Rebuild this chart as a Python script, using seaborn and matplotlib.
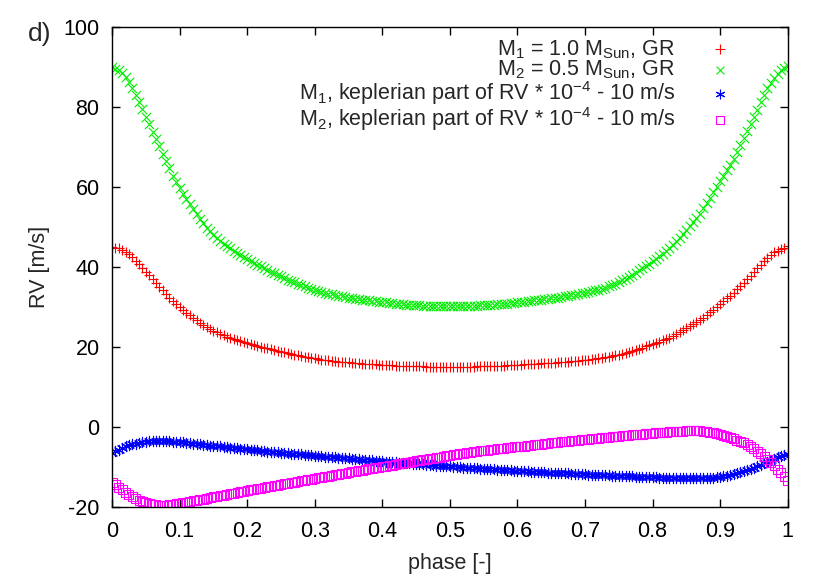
import matplotlib
matplotlib.use("Agg")
import matplotlib.pyplot as plt
import seaborn as sns
import pandas as pd

# -------------------------------
# Data (every 0.005 in phase)
# -------------------------------

phase = [
    0.000, 0.005, 0.010, 0.015, 0.020, 0.025, 0.030, 0.035, 0.040, 0.045,
    0.050, 0.055, 0.060, 0.065, 0.070, 0.075, 0.080, 0.085, 0.090, 0.095,
    0.100, 0.105, 0.110, 0.115, 0.120, 0.125, 0.130, 0.135, 0.140, 0.145,
    0.150, 0.155, 0.160, 0.165, 0.170, 0.175, 0.180, 0.185, 0.190, 0.195,
    0.200, 0.205, 0.210, 0.215, 0.220, 0.225, 0.230, 0.235, 0.240, 0.245,
    0.250, 0.255, 0.260, 0.265, 0.270, 0.275, 0.280, 0.285, 0.290, 0.295,
    0.300, 0.305, 0.310, 0.315, 0.320, 0.325, 0.330, 0.335, 0.340, 0.345,
    0.350, 0.355, 0.360, 0.365, 0.370, 0.375, 0.380, 0.385, 0.390, 0.395,
    0.400, 0.405, 0.410, 0.415, 0.420, 0.425, 0.430, 0.435, 0.440, 0.445,
    0.450, 0.455, 0.460, 0.465, 0.470, 0.475, 0.480, 0.485, 0.490, 0.495,
    0.500, 0.505, 0.510, 0.515, 0.520, 0.525, 0.530, 0.535, 0.540, 0.545,
    0.550, 0.555, 0.560, 0.565, 0.570, 0.575, 0.580, 0.585, 0.590, 0.595,
    0.600, 0.605, 0.610, 0.615, 0.620, 0.625, 0.630, 0.635, 0.640, 0.645,
    0.650, 0.655, 0.660, 0.665, 0.670, 0.675, 0.680, 0.685, 0.690, 0.695,
    0.700, 0.705, 0.710, 0.715, 0.720, 0.725, 0.730, 0.735, 0.740, 0.745,
    0.750, 0.755, 0.760, 0.765, 0.770, 0.775, 0.780, 0.785, 0.790, 0.795,
    0.800, 0.805, 0.810, 0.815, 0.820, 0.825, 0.830, 0.835, 0.840, 0.845,
    0.850, 0.855, 0.860, 0.865, 0.870, 0.875, 0.880, 0.885, 0.890, 0.895,
    0.900, 0.905, 0.910, 0.915, 0.920, 0.925, 0.930, 0.935, 0.940, 0.945,
    0.950, 0.955, 0.960, 0.965, 0.970, 0.975, 0.980, 0.985, 0.990, 0.995,
    1.000,
]

# M1 = 1.0 MSun, GR
rv_m1_gr = [
    45.1, 44.9, 44.7, 44.3, 43.9, 43.2, 42.5, 41.65, 40.8, 39.85,
    38.9, 37.95, 37.0, 36.05, 35.1, 34.2, 33.3, 32.4, 31.5, 30.75,
    30.0, 29.3, 28.6, 27.95, 27.3, 26.7, 26.1, 25.55, 25.0, 24.55,
    24.1, 23.7, 23.3, 22.95, 22.6, 22.3, 22.0, 21.75, 21.5, 21.25,
    21.0, 20.75, 20.5, 20.3, 20.1, 19.9, 19.7, 19.5, 19.3, 19.1,
    18.9, 18.7, 18.5, 18.3, 18.1, 17.95, 17.8, 17.65, 17.5, 17.35,
    17.2, 17.05, 16.9, 16.8, 16.7, 16.6, 16.5, 16.4, 16.3, 16.25,
    16.2, 16.1, 16.0, 15.95, 15.9, 15.85, 15.8, 15.75, 15.7, 15.65,
    15.6, 15.55, 15.5, 15.45, 15.4, 15.4, 15.4, 15.35, 15.3, 15.25,
    15.2, 15.2, 15.2, 15.15, 15.1, 15.1, 15.1, 15.1, 15.1, 15.1,
    15.1, 15.1, 15.1, 15.1, 15.1, 15.1, 15.1, 15.15, 15.2, 15.2,
    15.2, 15.25, 15.3, 15.3, 15.3, 15.35, 15.4, 15.45, 15.5, 15.55,
    15.6, 15.65, 15.7, 15.75, 15.8, 15.85, 15.9, 15.95, 16.0, 16.05,
    16.1, 16.15, 16.2, 16.25, 16.3, 16.4, 16.5, 16.55, 16.6, 16.7,
    16.8, 16.9, 17.0, 17.1, 17.2, 17.35, 17.5, 17.65, 17.8, 17.95,
    18.1, 18.35, 18.6, 18.85, 19.1, 19.35, 19.6, 19.9, 20.2, 20.5,
    20.8, 21.1, 21.4, 21.7, 22.0, 22.4, 22.8, 23.25, 23.7, 24.2,
    24.7, 25.2, 25.7, 26.25, 26.8, 27.4, 28.0, 28.7, 29.4, 30.1,
    30.8, 31.5, 32.2, 32.9, 33.6, 34.45, 35.3, 36.15, 37.0, 37.9,
    38.8, 39.7, 40.6, 41.45, 42.3, 43.0, 43.7, 44.15, 44.6, 44.9,
    45.2,
]

# M2 = 0.5 MSun, GR
rv_m2_gr = [
    90.0, 89.65, 89.3, 88.45, 87.6, 86.2, 84.8, 83.1, 81.4, 79.5,
    77.6, 75.7, 73.8, 72.0, 70.2, 68.35, 66.5, 64.7, 62.9, 61.35,
    59.8, 58.4, 57.0, 55.75, 54.5, 53.3, 52.1, 51.0, 49.9, 48.95,
    48.0, 47.25, 46.5, 45.9, 45.3, 44.7, 44.1, 43.55, 43.0, 42.5,
    42.0, 41.55, 41.1, 40.65, 40.2, 39.75, 39.3, 38.9, 38.5, 38.1,
    37.7, 37.3, 36.9, 36.55, 36.2, 35.85, 35.5, 35.2, 34.9, 34.6,
    34.3, 34.05, 33.8, 33.6, 33.4, 33.2, 33.0, 32.85, 32.7, 32.55,
    32.4, 32.25, 32.1, 32.0, 31.9, 31.8, 31.7, 31.6, 31.5, 31.4,
    31.3, 31.2, 31.1, 31.0, 30.9, 30.8, 30.7, 30.65, 30.6, 30.55,
    30.5, 30.45, 30.4, 30.35, 30.3, 30.3, 30.3, 30.25, 30.2, 30.2,
    30.2, 30.2, 30.2, 30.25, 30.3, 30.3, 30.3, 30.35, 30.4, 30.45,
    30.5, 30.55, 30.6, 30.65, 30.7, 30.75, 30.8, 30.9, 31.0, 31.1,
    31.2, 31.3, 31.4, 31.5, 31.6, 31.7, 31.8, 31.9, 32.0, 32.1,
    32.2, 32.3, 32.4, 32.55, 32.7, 32.85, 33.0, 33.15, 33.3, 33.45,
    33.6, 33.8, 34.0, 34.2, 34.4, 34.65, 34.9, 35.2, 35.5, 35.9,
    36.3, 36.7, 37.1, 37.6, 38.1, 38.65, 39.2, 39.75, 40.3, 40.9,
    41.5, 42.1, 42.7, 43.35, 44.0, 44.8, 45.6, 46.5, 47.4, 48.35,
    49.3, 50.3, 51.3, 52.35, 53.4, 54.7, 56.0, 57.35, 58.7, 60.1,
    61.5, 62.85, 64.2, 65.6, 67.0, 68.75, 70.5, 72.25, 74.0, 75.8,
    77.6, 79.4, 81.2, 83.0, 84.8, 86.1, 87.4, 88.3, 89.2, 89.8,
    90.4,
]

# M1, keplerian part * 1e-4 - 10 m/s
rv_m1_kep = [
    -6.5, -6.05, -5.6, -5.2, -4.8, -4.55, -4.3, -4.1, -3.9, -3.75,
    -3.6, -3.55, -3.5, -3.45, -3.4, -3.45, -3.5, -3.55, -3.6, -3.65,
    -3.7, -3.8, -3.9, -4.0, -4.1, -4.2, -4.3, -4.4, -4.5, -4.6,
    -4.7, -4.75, -4.8, -4.9, -5.0, -5.1, -5.2, -5.3, -5.4, -5.45,
    -5.5, -5.6, -5.7, -5.8, -5.9, -6.0, -6.1, -6.15, -6.2, -6.3,
    -6.4, -6.45, -6.5, -6.6, -6.7, -6.75, -6.8, -6.9, -7.0, -7.05,
    -7.1, -7.2, -7.3, -7.35, -7.4, -7.45, -7.5, -7.6, -7.7, -7.75,
    -7.8, -7.85, -7.9, -8.0, -8.1, -8.15, -8.2, -8.3, -8.4, -8.45,
    -8.5, -8.6, -8.7, -8.75, -8.8, -8.85, -8.9, -8.95, -9.0, -9.1,
    -9.2, -9.25, -9.3, -9.35, -9.4, -9.5, -9.6, -9.65, -9.7, -9.75,
    -9.8, -9.85, -9.9, -10.0, -10.1, -10.15, -10.2, -10.25, -10.3, -10.35,
    -10.4, -10.45, -10.5, -10.55, -10.6, -10.65, -10.7, -10.75, -10.8, -10.85,
    -10.9, -10.95, -11.0, -11.05, -11.1, -11.15, -11.2, -11.25, -11.3, -11.35,
    -11.4, -11.45, -11.5, -11.5, -11.5, -11.55, -11.6, -11.65, -11.7, -11.75,
    -11.8, -11.85, -11.9, -11.9, -11.9, -11.95, -12.0, -12.05, -12.1, -12.15,
    -12.2, -12.2, -12.2, -12.25, -12.3, -12.35, -12.4, -12.4, -12.4, -12.45,
    -12.5, -12.55, -12.6, -12.6, -12.6, -12.65, -12.7, -12.7, -12.7, -12.75,
    -12.8, -12.8, -12.8, -12.8, -12.8, -12.75, -12.7, -12.65, -12.6, -12.5,
    -12.4, -12.25, -12.1, -11.9, -11.7, -11.45, -11.2, -10.95, -10.7, -10.4,
    -10.1, -9.75, -9.4, -9.05, -8.7, -8.3, -7.9, -7.5, -7.1, -6.85,
    -6.6,
]

# M2, keplerian part * 1e-4 - 10 m/s
rv_m2_kep = [
    -13.7, -14.35, -15.0, -15.65, -16.3, -16.85, -17.4, -17.85, -18.3, -18.6,
    -18.9, -19.1, -19.3, -19.4, -19.5, -19.5, -19.5, -19.4, -19.3, -19.15,
    -19.0, -18.85, -18.7, -18.55, -18.4, -18.25, -18.1, -17.95, -17.8, -17.6,
    -17.4, -17.25, -17.1, -16.95, -16.8, -16.65, -16.5, -16.3, -16.1, -15.95,
    -15.8, -15.65, -15.5, -15.35, -15.2, -15.05, -14.9, -14.75, -14.6, -14.45,
    -14.3, -14.15, -14.0, -13.85, -13.7, -13.55, -13.4, -13.25, -13.1, -12.95,
    -12.8, -12.65, -12.5, -12.35, -12.2, -12.05, -11.9, -11.75, -11.6, -11.45,
    -11.3, -11.15, -11.0, -10.85, -10.7, -10.55, -10.4, -10.25, -10.1, -10.0,
    -9.9, -9.75, -9.6, -9.45, -9.3, -9.15, -9.0, -8.85, -8.7, -8.55,
    -8.4, -8.25, -8.1, -8.0, -7.9, -7.75, -7.6, -7.45, -7.3, -7.15,
    -7.0, -6.9, -6.8, -6.65, -6.5, -6.4, -6.3, -6.15, -6.0, -5.9,
    -5.8, -5.7, -5.6, -5.5, -5.4, -5.3, -5.2, -5.1, -5.0, -4.9,
    -4.8, -4.75, -4.7, -4.6, -4.5, -4.4, -4.3, -4.2, -4.1, -4.0,
    -3.9, -3.8, -3.7, -3.65, -3.6, -3.5, -3.4, -3.3, -3.2, -3.1,
    -3.0, -2.95, -2.9, -2.8, -2.7, -2.6, -2.5, -2.45, -2.4, -2.3,
    -2.2, -2.15, -2.1, -2.0, -1.9, -1.85, -1.8, -1.7, -1.6, -1.55,
    -1.5, -1.4, -1.3, -1.25, -1.2, -1.15, -1.1, -1.05, -1.0, -0.95,
    -0.9, -0.9, -0.9, -0.9, -0.9, -1.0, -1.1, -1.25, -1.4, -1.6,
    -1.8, -2.05, -2.3, -2.6, -2.9, -3.2, -3.5, -3.85, -4.2, -4.75,
    -5.3, -5.95, -6.6, -7.3, -8.0, -8.8, -9.6, -10.5, -11.4, -12.35,
    -13.3,
]

labels = [
    r"M$_1$ = 1.0 M$_{Sun}$, GR",
    r"M$_2$ = 0.5 M$_{Sun}$, GR",
    r"M$_1$, keplerian part of RV * 10$^{-4}$ - 10 m/s",
    r"M$_2$, keplerian part of RV * 10$^{-4}$ - 10 m/s",
]

x_ticks = [0, 0.1, 0.2, 0.3, 0.4, 0.5, 0.6, 0.7, 0.8, 0.9, 1]
x_tick_labels = ["0", "0.1", "0.2", "0.3", "0.4", "0.5", "0.6", "0.7", "0.8", "0.9", "1"]
y_ticks = [-20, 0, 20, 40, 60, 80, 100]
y_tick_labels = ["-20", "0", "20", "40", "60", "80", "100"]

df = pd.DataFrame({
    "phase": phase,
    "m1_gr": rv_m1_gr,
    "m2_gr": rv_m2_gr,
    "m1_kep": rv_m1_kep,
    "m2_kep": rv_m2_kep,
})

# -------------------------------
# Style
# -------------------------------

sns.set_theme(style="ticks")
plt.rcParams["font.family"] = ["Liberation Sans", "DejaVu Sans"]
plt.rcParams["mathtext.default"] = "regular"
plt.rcParams["font.size"] = 15.5

fig = plt.figure(figsize=(8.3, 5.81), dpi=100)
ax = fig.add_axes([0.135, 0.127, 0.814, 0.826])

# -------------------------------
# Plot
# -------------------------------

sns.scatterplot(data=df, x="phase", y="m1_gr", ax=ax, marker="+",
                color="#ff0000", s=60, linewidth=0.8, label=labels[0])
sns.scatterplot(data=df, x="phase", y="m2_gr", ax=ax, marker="x",
                color="#00ee00", s=45, linewidth=0.8, label=labels[1])
sns.scatterplot(data=df, x="phase", y="m1_kep", ax=ax, marker=(6, 2, 0),
                color="#0000ff", s=55, linewidth=0.8, label=labels[2])
sns.scatterplot(data=df, x="phase", y="m2_kep", ax=ax, marker="s",
                facecolor="none", edgecolor="#ff00ff", s=42, linewidth=0.8,
                label=labels[3])

ax.set_xlim(0, 1)
ax.set_ylim(-20, 100)
ax.set_xticks(x_ticks)
ax.set_xticklabels(x_tick_labels)
ax.set_yticks(y_ticks)
ax.set_yticklabels(y_tick_labels)
ax.tick_params(direction="in", length=6, width=1, top=True, right=True,
               labelsize=15.5, colors="black")
ax.tick_params(axis="x", pad=10)
ax.tick_params(axis="y", pad=9)
for sp in ax.spines.values():
    sp.set_visible(True)
    sp.set_color("black")
    sp.set_linewidth(1)

ax.set_xlabel("phase [-]", fontsize=15.5, labelpad=8)
ax.set_ylabel("RV [m/s]", fontsize=15.5, labelpad=10)

leg = ax.legend(loc="upper right", bbox_to_anchor=(0.935, 1.0),
                frameon=False, markerfirst=False, fontsize=15.5,
                labelspacing=-0.1, handletextpad=1.5, borderaxespad=0.1,
                handlelength=1.2, markerscale=0.85)
for col in leg._legend_handle_box.get_children():
    col.align = "right"

fig.text(0.034, 0.93, "d)", fontsize=19)

fig.savefig("out.png", dpi=100)
